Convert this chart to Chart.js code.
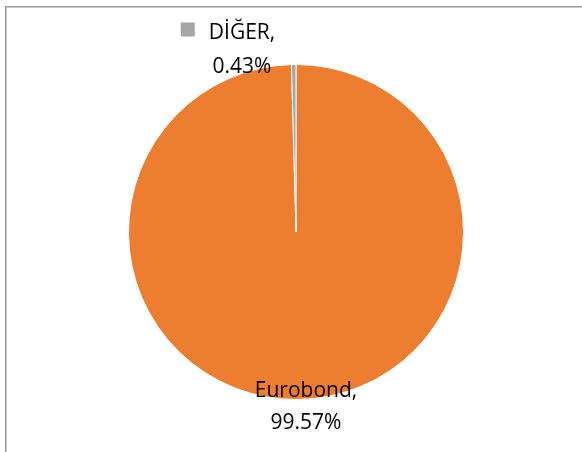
<!DOCTYPE html>
<html>
<head>
<meta charset="utf-8">
<script src="https://cdn.jsdelivr.net/npm/chart.js@4/dist/chart.umd.min.js"></script>
<style>
html,body{margin:0;padding:0;background:#fff;}
#wrap{position:relative;width:582px;height:452px;}
</style>
</head>
<body>
<div id="wrap"><canvas id="c" width="582" height="452"></canvas></div>
<script>
const categories = ['Eurobond', 'DİĞER'];
const shares = [99.57, 0.43];
const sliceColors = ['#ED7D31', '#A5A5A5'];
const shareLabels = ['99.57%', '0.43%'];

const FONT = '21px "Open Sans", Lato, sans-serif';

const framePlugin = {
  id: 'frame',
  beforeDraw(chart) {
    const ctx = chart.ctx;
    ctx.save();
    ctx.strokeStyle = '#9a9a9a';
    ctx.lineWidth = 1.5;
    ctx.strokeRect(5.75, 6.75, 700, 600);
    ctx.restore();
  }
};

const labelPlugin = {
  id: 'sliceLabels',
  afterDraw(chart) {
    const ctx = chart.ctx;
    const meta = chart.getDatasetMeta(0);
    ctx.save();
    ctx.font = FONT;
    ctx.textAlign = 'center';
    ctx.textBaseline = 'alphabetic';
    meta.data.forEach((arc, i) => {
      const p = arc.getProps(['x', 'y', 'outerRadius', 'startAngle', 'endAngle']);
      const mid = (p.startAngle + p.endAngle) / 2;
      const top = Math.sin(mid) < 0;
      const line1 = categories[i] + ',';
      const line2 = shareLabels[i];
      let cx, y1, y2;
      if (top) {
        cx = p.x - 54;
        y1 = p.y - p.outerRadius - 26;
        y2 = p.y - p.outerRadius + 8;
      } else {
        cx = p.x + 10;
        y1 = p.y + p.outerRadius - 3;
        y2 = p.y + p.outerRadius + 29;
      }
      const w1 = ctx.measureText(line1).width;
      if (top) {
        ctx.fillStyle = sliceColors[i];
        ctx.fillRect(cx - w1 / 2 - 28, y1 - 16, 14, 14);
      }
      ctx.fillStyle = '#000';
      ctx.fillText(line1, cx, y1);
      ctx.fillText(line2, cx, y2);
    });
    ctx.restore();
  }
};

new Chart(document.getElementById('c'), {
  type: 'pie',
  data: {
    labels: categories,
    datasets: [{
      data: shares,
      backgroundColor: sliceColors,
      borderColor: '#ffffff',
      borderWidth: 1
    }]
  },
  options: {
    responsive: false,
    animation: false,
    layout: { padding: { top: 64, bottom: 52, left: 128, right: 118 } },
    plugins: { legend: { display: false }, tooltip: { enabled: false } }
  },
  plugins: [framePlugin, labelPlugin]
});
</script>
</body>
</html>
